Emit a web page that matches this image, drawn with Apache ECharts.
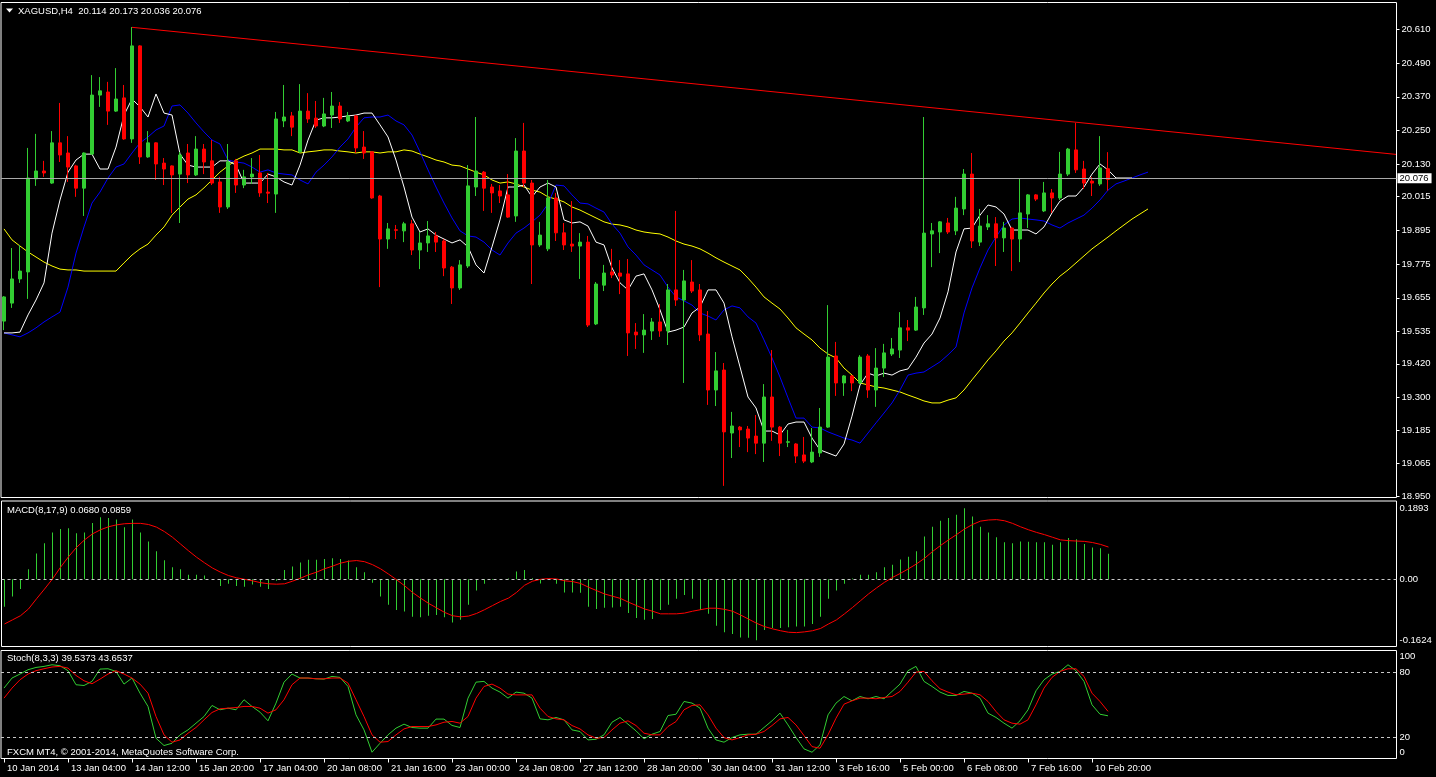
<!DOCTYPE html>
<html><head><meta charset="utf-8">
<script src="https://cdn.jsdelivr.net/npm/echarts@6/dist/echarts.min.js"></script>
<style>html,body{margin:0;padding:0;background:#000;overflow:hidden}#c{width:1436px;height:777px}</style>
</head><body><div id="c"></div>
<script>
// ---------- DATA ----------
const symbolName = 'XAGUSD,H4';
const opens = [19.572,19.636,19.722,19.747,20.078,20.106,20.063,20.206,20.170,20.124,
20.045,20.166,20.376,20.387,20.319,20.366,20.220,20.551,20.156,20.206,
20.134,20.124,20.095,20.170,20.092,20.184,20.142,20.067,19.978,20.142,
20.056,20.085,20.099,20.031,20.024,20.284,20.302,20.174,20.319,20.294,
20.266,20.305,20.337,20.284,20.302,20.191,20.174,20.017,19.864,19.897,
19.893,19.918,19.825,19.850,19.875,19.857,19.764,19.690,19.768,20.049,
20.102,20.049,20.035,20.021,19.946,20.177,20.063,19.843,19.829,20.010,
19.886,19.846,19.839,19.853,19.562,19.700,19.747,19.743,19.740,19.533,
19.523,19.537,19.569,19.537,19.683,19.647,19.711,19.683,19.526,19.327,
19.398,19.174,19.195,19.188,19.163,19.138,19.302,19.195,19.141,19.135,
19.096,19.071,19.103,19.195,19.448,19.352,19.377,19.352,19.448,19.327,
19.405,19.455,19.469,19.548,19.540,19.619,19.882,19.889,19.921,19.893,
19.971,20.095,19.853,19.907,19.918,19.868,19.903,19.864,19.953,20.021,
19.964,20.028,20.010,20.095,20.181,20.113,20.070,20.060,20.114];
const highs = [19.661,19.832,19.843,20.188,20.238,20.142,20.248,20.348,20.230,20.128,
20.172,20.447,20.440,20.423,20.472,20.412,20.618,20.553,20.248,20.208,
20.152,20.126,20.174,20.202,20.230,20.202,20.216,20.085,20.202,20.149,
20.110,20.152,20.163,20.099,20.316,20.412,20.316,20.415,20.383,20.355,
20.366,20.387,20.351,20.316,20.305,20.248,20.176,20.021,19.921,19.914,
19.925,19.932,19.889,19.928,19.889,19.864,19.768,19.789,20.127,20.298,
20.106,20.060,20.056,20.095,20.223,20.277,20.074,19.925,20.074,20.028,
19.921,19.999,19.885,19.875,19.711,19.772,19.829,19.789,19.793,19.565,
19.597,19.583,19.633,19.704,19.964,19.754,19.789,19.704,19.608,19.462,
19.423,19.249,19.199,19.199,19.238,19.348,19.469,19.199,19.185,19.138,
19.160,19.192,19.263,19.629,19.498,19.380,19.380,19.451,19.455,19.476,
19.491,19.512,19.604,19.576,19.658,20.298,19.921,19.928,19.939,20.014,
20.113,20.170,19.971,19.949,19.942,19.925,19.907,20.081,20.024,20.024,
20.067,20.042,20.174,20.188,20.277,20.142,20.085,20.230,20.173];
const lows = [19.540,19.619,19.708,19.651,20.053,20.085,20.060,20.138,20.067,20.014,
19.946,20.163,20.334,20.270,20.316,20.217,20.206,20.131,20.153,20.074,
20.056,19.957,19.921,20.063,20.088,20.095,20.056,19.957,19.971,20.028,
20.045,20.060,20.014,19.992,19.957,20.262,20.230,20.170,20.277,20.259,
20.262,20.259,20.277,20.280,20.170,20.149,20.007,19.693,19.829,19.864,
19.853,19.807,19.757,19.818,19.818,19.732,19.633,19.683,19.761,20.017,
19.964,19.957,19.992,19.939,19.925,20.049,19.704,19.836,19.821,19.857,
19.825,19.818,19.722,19.551,19.558,19.679,19.725,19.668,19.448,19.473,
19.459,19.505,19.516,19.487,19.626,19.352,19.672,19.501,19.274,19.270,
18.986,19.085,19.124,19.106,19.099,19.071,19.146,19.092,19.124,19.067,
19.067,19.067,19.089,19.192,19.306,19.306,19.323,19.348,19.299,19.267,
19.373,19.448,19.441,19.501,19.537,19.594,19.764,19.814,19.882,19.878,
19.949,19.832,19.839,19.896,19.768,19.818,19.750,19.782,19.903,19.999,
19.960,19.957,20.003,20.088,20.099,20.042,20.017,20.053,20.036];
const closes = [19.658,19.722,19.750,20.081,20.106,20.099,20.206,20.163,20.120,20.045,
20.170,20.376,20.391,20.319,20.362,20.220,20.551,20.156,20.206,20.131,
20.113,20.092,20.163,20.092,20.184,20.138,20.063,19.978,20.138,20.056,
20.085,20.095,20.028,20.027,20.291,20.298,20.262,20.319,20.291,20.266,
20.309,20.337,20.291,20.302,20.188,20.170,20.010,19.864,19.900,19.895,
19.918,19.825,19.850,19.875,19.853,19.761,19.690,19.772,20.053,20.106,
20.045,20.028,20.017,19.942,20.177,20.063,19.843,19.878,20.010,19.886,
19.843,19.839,19.853,19.558,19.704,19.743,19.736,19.732,19.530,19.523,
19.540,19.569,19.537,19.683,19.647,19.715,19.679,19.523,19.327,19.395,
19.178,19.199,19.185,19.156,19.138,19.302,19.195,19.138,19.143,19.092,
19.074,19.106,19.195,19.444,19.352,19.377,19.352,19.444,19.327,19.405,
19.459,19.473,19.548,19.540,19.622,19.885,19.893,19.925,19.889,19.974,
20.095,19.857,19.910,19.918,19.868,19.903,19.864,19.957,20.021,20.006,
20.028,20.010,20.095,20.184,20.110,20.063,20.063,20.117,20.076];

// moving averages (drawn shifted forward, so they run past the last candle)
const maWhite = [19.530,19.530,19.533,19.594,19.647,19.708,19.885,20.003,20.102,20.145,
20.166,20.166,20.113,20.113,20.191,20.305,20.362,20.334,20.298,20.380,
20.312,20.305,20.166,20.127,20.120,20.120,20.120,20.142,20.142,20.127,
20.063,20.063,20.063,20.095,20.085,20.067,20.056,20.127,20.216,20.287,
20.295,20.295,20.298,20.302,20.305,20.312,20.312,20.270,20.227,20.145,
20.049,19.942,19.889,19.900,19.878,19.864,19.850,19.861,19.836,19.772,
19.743,19.836,19.932,20.049,20.049,20.056,20.014,20.049,20.063,20.049,
19.932,19.921,19.925,19.910,19.853,19.843,19.761,19.708,19.683,19.732,
19.740,19.683,19.612,19.533,19.540,19.551,19.601,19.622,19.683,19.683,
19.636,19.516,19.409,19.302,19.263,19.181,19.181,19.167,19.206,19.213,
19.213,19.156,19.114,19.103,19.092,19.135,19.234,19.345,19.387,19.377,
19.387,19.380,19.395,19.402,19.444,19.494,19.526,19.583,19.676,19.818,
19.900,19.903,19.949,19.985,19.978,19.953,19.896,19.896,19.896,19.882,
19.907,19.957,19.999,20.017,20.017,20.049,20.095,20.131,20.110,20.081,
20.081,20.081];
const maBlue = [19.530,19.523,19.516,19.530,19.548,19.569,19.587,19.604,19.693,19.814,
19.907,19.992,20.031,20.081,20.120,20.131,20.170,20.206,20.227,20.252,
20.266,20.337,20.341,20.312,20.277,20.245,20.216,20.202,20.145,20.138,
20.134,20.120,20.102,20.110,20.099,20.095,20.092,20.074,20.060,20.102,
20.127,20.156,20.191,20.220,20.262,20.295,20.298,20.298,20.305,20.284,
20.270,20.234,20.174,20.110,20.049,19.992,19.939,19.893,19.875,19.871,
19.853,19.825,19.807,19.850,19.885,19.903,19.925,19.949,19.989,20.056,
20.053,20.021,19.992,19.989,19.974,19.960,19.917,19.885,19.836,19.807,
19.772,19.754,19.736,19.693,19.658,19.644,19.629,19.601,19.590,19.576,
19.612,19.626,19.619,19.587,19.565,19.505,19.441,19.373,19.299,19.227,
19.227,19.195,19.192,19.178,19.167,19.156,19.149,19.138,19.174,19.210,
19.245,19.281,19.327,19.380,19.387,19.391,19.409,19.427,19.452,19.480,
19.601,19.690,19.761,19.825,19.871,19.914,19.935,19.939,19.935,19.932,
19.928,19.914,19.903,19.921,19.935,19.949,19.974,20.003,20.038,20.060,
20.070,20.081,20.092,20.102];
const maYellow = [19.900,19.861,19.839,19.818,19.800,19.782,19.768,19.757,19.754,19.754,
19.750,19.750,19.750,19.750,19.750,19.779,19.807,19.829,19.846,19.878,
19.907,19.949,19.978,20.006,20.021,20.046,20.074,20.102,20.124,20.145,
20.159,20.170,20.184,20.184,20.184,20.181,20.181,20.170,20.174,20.177,
20.181,20.181,20.177,20.174,20.170,20.174,20.174,20.170,20.174,20.174,
20.181,20.177,20.166,20.156,20.145,20.138,20.127,20.124,20.113,20.102,
20.092,20.074,20.063,20.067,20.060,20.049,20.038,20.031,20.014,20.006,
19.996,19.978,19.967,19.953,19.939,19.925,19.917,19.914,19.907,19.896,
19.889,19.885,19.882,19.871,19.857,19.846,19.839,19.829,19.814,19.797,
19.782,19.768,19.754,19.725,19.693,19.658,19.636,19.615,19.583,19.548,
19.526,19.505,19.476,19.455,19.441,19.405,19.380,19.352,19.345,19.338,
19.334,19.327,19.320,19.309,19.299,19.288,19.281,19.281,19.291,19.299,
19.327,19.363,19.398,19.434,19.466,19.501,19.530,19.565,19.601,19.636,
19.672,19.704,19.732,19.754,19.779,19.804,19.829,19.850,19.871,19.893,
19.914,19.935,19.953,19.971];
// trend line anchors [candle index, price]
const trendIdx = [16, 174];
const trendPrice = [20.617, 20.165];
const lastPrice = 20.076;

// MACD(8,17,9): histogram (main) and signal line
const macdHist = [-0.073,-0.046,-0.026,0.027,0.069,0.096,0.125,0.134,0.136,0.123,
0.125,0.150,0.165,0.163,0.159,0.139,0.159,0.125,0.101,0.075,
0.051,0.032,0.027,0.012,0.012,0.010,-0.002,-0.018,-0.012,-0.018,
-0.020,-0.014,-0.020,-0.026,-0.004,0.025,0.034,0.045,0.052,0.052,
0.054,0.056,0.054,0.050,0.032,0.019,-0.009,-0.046,-0.068,-0.082,
-0.086,-0.100,-0.101,-0.097,-0.095,-0.101,-0.115,-0.108,-0.068,-0.030,
-0.012,-0.002,0.001,0.002,0.021,0.025,0.003,-0.011,-0.002,-0.012,
-0.035,-0.035,-0.036,-0.073,-0.079,-0.076,-0.075,-0.073,-0.090,-0.103,
-0.108,-0.106,-0.082,-0.068,-0.052,-0.042,-0.052,-0.082,-0.092,-0.124,
-0.141,-0.146,-0.155,-0.156,-0.1624,-0.135,-0.130,-0.130,-0.128,-0.126,
-0.126,-0.119,-0.100,-0.052,-0.030,-0.012,0.002,0.012,0.012,0.019,
0.032,0.039,0.053,0.060,0.075,0.114,0.140,0.156,0.163,0.172,
0.1893,0.167,0.140,0.125,0.112,0.099,0.096,0.101,0.100,0.099,
0.099,0.092,0.099,0.110,0.107,0.094,0.085,0.083,0.0680];
const macdSignal = [-0.119,-0.108,-0.097,-0.079,-0.052,-0.026,0.001,0.032,0.060,0.085,
0.105,0.121,0.132,0.140,0.145,0.148,0.149,0.149,0.146,0.139,
0.127,0.112,0.094,0.076,0.059,0.044,0.030,0.019,0.010,0.004,
0.000,-0.004,-0.009,-0.012,-0.013,-0.012,-0.005,0.003,0.012,0.019,
0.028,0.035,0.043,0.048,0.050,0.047,0.039,0.028,0.014,-0.001,
-0.017,-0.035,-0.050,-0.064,-0.076,-0.088,-0.097,-0.100,-0.098,-0.091,
-0.081,-0.070,-0.059,-0.050,-0.035,-0.016,-0.005,0.000,0.002,0.001,
-0.004,-0.006,-0.011,-0.021,-0.030,-0.039,-0.045,-0.051,-0.061,-0.070,
-0.079,-0.085,-0.092,-0.092,-0.092,-0.090,-0.085,-0.081,-0.077,-0.077,
-0.080,-0.085,-0.095,-0.106,-0.117,-0.126,-0.132,-0.137,-0.141,-0.142,
-0.140,-0.137,-0.131,-0.119,-0.108,-0.092,-0.075,-0.057,-0.039,-0.023,
-0.008,0.005,0.016,0.028,0.041,0.056,0.074,0.090,0.105,0.119,
0.134,0.146,0.155,0.158,0.159,0.156,0.149,0.140,0.132,0.125,
0.119,0.112,0.105,0.103,0.102,0.101,0.098,0.093,0.0859];
const macdLabels = [0.1893, 0, -0.1624];

// Stochastic(8,3,3)
const stochK = [65.2,74.5,78.2,82.2,84.3,85.3,86.8,85.9,81.3,68.3,
67.6,71.4,82.8,83.1,80.6,68.9,74.5,60.5,48.2,18.8,
12.0,14.1,21.9,26.5,32.7,38.9,49.1,45.1,46.6,45.1,
54.4,48.2,42.9,34.9,51.3,70.7,78.2,74.5,74.5,73.8,
73.5,76.0,75.1,66.7,40.4,26.5,5.8,14.1,21.9,28.1,
31.8,28.7,28.1,28.1,36.5,36.5,30.6,28.7,55.9,70.7,
71.4,65.2,61.5,55.9,61.5,60.5,55.9,36.7,35.8,38.0,
35.8,26.5,25.0,17.2,17.8,21.9,33.6,38.0,31.8,25.6,
18.2,22.5,25.0,39.8,41.0,52.8,51.3,46.6,28.1,17.2,
15.1,19.4,21.9,22.5,22.5,28.7,34.9,42.0,31.1,19.4,
8.9,5.8,12.6,40.4,51.3,57.4,53.4,57.4,55.3,57.4,
55.3,62.1,68.9,81.3,85.3,71.4,66.7,61.5,58.4,58.4,
62.1,60.5,55.9,42.0,38.0,32.7,28.1,34.9,45.1,62.7,
72.9,78.2,80.6,86.8,81.3,71.4,49.7,41.0,39.5373];
const stochD = [55.9,65.2,72.9,78.2,81.3,83.1,84.7,85.3,83.7,76.9,
72.0,69.2,73.5,78.2,81.3,78.2,74.5,68.9,60.5,38.9,
21.9,15.1,17.2,23.4,28.7,35.8,42.6,46.0,46.6,47.2,
48.2,48.2,46.6,42.0,45.1,54.4,68.3,74.5,74.5,73.8,
73.8,74.5,74.5,69.8,54.4,38.9,21.9,15.1,15.7,21.9,
27.4,29.6,29.6,29.6,31.1,33.6,34.3,32.7,38.9,55.9,
66.7,68.9,65.2,59.6,58.9,58.9,58.9,46.6,38.9,36.7,
35.8,30.5,27.4,21.9,18.8,19.4,26.5,32.7,34.9,30.5,
23.4,21.9,21.9,29.6,34.2,45.1,49.1,49.7,40.4,28.1,
19.4,17.2,19.4,21.9,22.5,25.0,30.5,36.7,38.0,31.1,
21.2,11.0,9.5,21.9,37.3,50.3,53.4,55.9,55.9,55.3,
56.5,57.4,62.1,70.7,80.0,80.6,72.0,64.6,61.5,59.0,
59.6,60.5,59.0,52.8,43.5,35.8,32.7,31.8,35.8,49.7,
65.2,75.1,80.6,83.1,83.1,76.0,60.5,52.8,43.6537];
const stochLevels = [80, 20];
const stochLabels = [100, 80, 20, 0];

// axis tick labels
const priceTicks = [20.610,20.490,20.370,20.250,20.130,20.015,19.895,19.775,19.655,19.535,19.420,19.300,19.185,19.065,18.950];
const timeTickIndex = [0,8,16,24,32,40,48,56,64,72,80,88,96,104,112,120,128,136];
const timeTickLabels = ['10 Jan 2014','13 Jan 04:00','14 Jan 12:00','15 Jan 20:00','17 Jan 04:00','20 Jan 08:00',
'21 Jan 16:00','23 Jan 00:00','24 Jan 08:00','27 Jan 12:00','28 Jan 20:00','30 Jan 04:00','31 Jan 12:00',
'3 Feb 16:00','5 Feb 00:00','6 Feb 08:00','7 Feb 16:00','10 Feb 20:00'];
const footerText = 'FXCM MT4, \u00a9 2001-2014, MetaQuotes Software Corp.';

// ---------- CHART ----------
const FONT = '"Liberation Sans", Arial, sans-serif';
const FS = 9.5;
const GREEN = '#32cd32', RED = '#ff0000';
const X_MIN = -0.375;
const pairs = arr => arr.map((v, i) => [i, v]);
const last = closes.length - 1;

const candles = opens.map((o, i) => [i, o, closes[i], lows[i], highs[i]]);

function xAx(gi, width, labels) {
  return {
    type: 'value', gridIndex: gi, min: X_MIN, max: X_MIN + width / 8,
    axisLine: {show: false, onZero: false}, splitLine: {show: false},
    axisTick: labels ? {show: true, customValues: timeTickIndex, length: 4, lineStyle: {color: '#fff', width: 1}} : {show: false},
    axisLabel: labels ? {
      show: true, customValues: timeTickIndex, align: 'left', margin: 5, padding: [0, 0, 0, 3],
      formatter: v => timeTickLabels[timeTickIndex.indexOf(Math.round(v))] || '',
      color: '#fff', fontSize: FS, fontFamily: FONT
    } : {show: false}
  };
}
const gridBase = {show: true, borderColor: '#fff', borderWidth: 1, backgroundColor: 'transparent', outerBoundsMode: 'none'};
const lbl = {color: '#fff', fontSize: FS, fontFamily: FONT};

const option = {
  backgroundColor: '#000',
  animation: false,
  grid: [
    Object.assign({left: 1, width: 1395.5, top: 2.5, height: 495}, gridBase),
    Object.assign({left: 1.5, width: 1395, top: 501, height: 145.5}, gridBase),
    Object.assign({left: 1, width: 1395.5, top: 650.5, height: 108}, gridBase)
  ],
  xAxis: [xAx(0, 1395.5, false), xAx(1, 1395, false), xAx(2, 1395.5, true)],
  yAxis: [
    {type: 'value', gridIndex: 0, position: 'right', min: 18.9446, max: 20.7053,
     axisLine: {show: false, onZero: false}, splitLine: {show: false},
     axisTick: {show: true, customValues: priceTicks, length: 3, lineStyle: {color: '#fff'}},
     axisLabel: Object.assign({customValues: priceTicks, margin: 5, formatter: v => v.toFixed(3)}, lbl)},
    {type: 'value', gridIndex: 1, position: 'right', min: -0.1790, max: 0.2086,
     axisLine: {show: false, onZero: false}, splitLine: {show: false}, axisTick: {show: false},
     axisLabel: Object.assign({customValues: macdLabels, margin: 3, formatter: v => v === 0 ? '0.00' : v.toFixed(4)}, lbl)},
    {type: 'value', gridIndex: 2, position: 'right', min: 0, max: 100,
     axisLine: {show: false, onZero: false}, splitLine: {show: false}, axisTick: {show: false},
     axisLabel: Object.assign({customValues: stochLabels, margin: 3,
       formatter: v => v === 100 ? '{t|100}' : (v === 0 ? '{b|0}' : String(v)),
       rich: {t: Object.assign({padding: [12, 0, 0, 0]}, lbl), b: Object.assign({padding: [0, 0, 12, 0]}, lbl)}}, lbl)}
  ],
  series: [
    {type: 'line', name: 'maYellow', xAxisIndex: 0, yAxisIndex: 0, data: pairs(maYellow), showSymbol: false, silent: true,
     lineStyle: {color: '#ffff00', width: 1}, z: 2},
    {type: 'line', name: 'maBlue', xAxisIndex: 0, yAxisIndex: 0, data: pairs(maBlue), showSymbol: false, silent: true,
     lineStyle: {color: '#0000ff', width: 1}, z: 2},
    {type: 'line', name: 'maWhite', xAxisIndex: 0, yAxisIndex: 0, data: pairs(maWhite), showSymbol: false, silent: true,
     lineStyle: {color: '#ffffff', width: 1}, z: 2},
    {type: 'candlestick', name: symbolName, xAxisIndex: 0, yAxisIndex: 0, data: candles, encode: {x: 0, y: [1, 2, 3, 4]},
     barWidth: 4, silent: true, z: 3,
     itemStyle: {color: GREEN, color0: RED, borderColor: GREEN, borderColor0: RED, borderWidth: 1},
     markLine: {silent: true, symbol: ['none', 'none'], animation: false,
       lineStyle: {color: '#a9a9a9', width: 1, type: 'solid'},
       label: {show: true, position: 'end', distance: 1, formatter: () => lastPrice.toFixed(3),
         backgroundColor: '#fff', color: '#000', padding: [0, 3, 0, 2], lineHeight: 10, fontSize: FS, fontFamily: FONT},
       data: [{yAxis: lastPrice}]}},
    {type: 'line', name: 'trend', xAxisIndex: 0, yAxisIndex: 0, data: trendIdx.map((x, i) => [x, trendPrice[i]]),
     showSymbol: false, silent: true, lineStyle: {color: RED, width: 1}, z: 4},
    {type: 'bar', name: 'MACD', xAxisIndex: 1, yAxisIndex: 1, data: pairs(macdHist), barWidth: 1, silent: true,
     itemStyle: {color: GREEN}},
    {type: 'line', name: 'Signal', xAxisIndex: 1, yAxisIndex: 1, data: pairs(macdSignal), showSymbol: false, silent: true,
     lineStyle: {color: RED, width: 1}, z: 3,
     markLine: {silent: true, symbol: ['none', 'none'], animation: false, label: {show: false},
       lineStyle: {color: '#c8c8c8', width: 1, type: [3, 3]}, data: [{yAxis: 0}]}},
    {type: 'line', name: '%K', xAxisIndex: 2, yAxisIndex: 2, data: pairs(stochK), showSymbol: false, silent: true,
     lineStyle: {color: GREEN, width: 1}, z: 3,
     markLine: {silent: true, symbol: ['none', 'none'], animation: false, label: {show: false},
       lineStyle: {color: '#c8c8c8', width: 1, type: [3, 3]}, data: stochLevels.map(v => ({yAxis: v}))}},
    {type: 'line', name: '%D', xAxisIndex: 2, yAxisIndex: 2, data: pairs(stochD), showSymbol: false, silent: true,
     lineStyle: {color: RED, width: 1}, z: 3}
  ],
  graphic: [
    {type: 'polygon', shape: {points: [[6, 8.5], [13, 8.5], [9.5, 12.5]]}, style: {fill: '#fff'}},
    {type: 'text', style: {x: 18, y: 11, verticalAlign: 'middle', fill: '#fff', font: FS + 'px ' + FONT,
      text: symbolName + '  ' + [opens[last], highs[last], lows[last], closes[last]].map(v => v.toFixed(3)).join(' ')}},
    {type: 'text', style: {x: 7, y: 510, verticalAlign: 'middle', fill: '#fff', font: FS + 'px ' + FONT,
      text: 'MACD(8,17,9) ' + macdHist[last].toFixed(4) + ' ' + macdSignal[last].toFixed(4)}},
    {type: 'text', style: {x: 7, y: 658.5, verticalAlign: 'middle', fill: '#fff', font: FS + 'px ' + FONT,
      text: 'Stoch(8,3,3) ' + stochK[last].toFixed(4) + ' ' + stochD[last].toFixed(4)}},
    {type: 'text', style: {x: 7, y: 752.5, verticalAlign: 'middle', fill: '#fff', font: FS + 'px ' + FONT, text: footerText}}
  ]
};
const chart = echarts.init(document.getElementById('c'), null, {renderer: 'canvas'});
chart.setOption(option);
</script></body></html>
